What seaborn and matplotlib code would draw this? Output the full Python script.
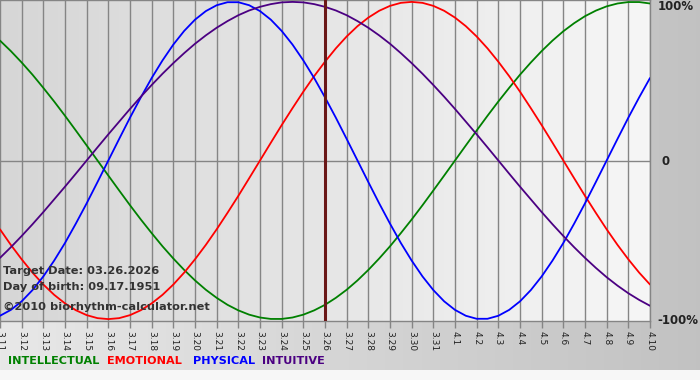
import numpy as np
import pandas as pd
import matplotlib
matplotlib.use("Agg")
import matplotlib.pyplot as plt
import matplotlib.transforms as mtransforms
import seaborn as sns

dates = ["3.11", "3.12", "3.13", "3.14", "3.15", "3.16", "3.17", "3.18", "3.19", "3.20",
         "3.21", "3.22", "3.23", "3.24", "3.25", "3.26", "3.27", "3.28", "3.29", "3.30",
         "3.31", "4.1", "4.2", "4.3", "4.4", "4.5", "4.6", "4.7", "4.8", "4.9", "4.10"]
day_offsets = np.arange(0, 30.5, 0.5)

intellectual = [0.756, 0.690, 0.618, 0.541, 0.458, 0.372, 0.282, 0.189, 0.095, 0.000,
                -0.095, -0.189, -0.282, -0.372, -0.458, -0.541, -0.618, -0.690, -0.756, -0.815,
                -0.866, -0.910, -0.945, -0.972, -0.990, -0.999, -0.999, -0.990, -0.972, -0.945,
                -0.910, -0.866, -0.815, -0.756, -0.690, -0.618, -0.541, -0.458, -0.372, -0.282,
                -0.189, -0.095, 0.000, 0.095, 0.189, 0.282, 0.372, 0.458, 0.541, 0.618,
                0.690, 0.756, 0.815, 0.866, 0.910, 0.945, 0.972, 0.990, 0.999, 0.999, 0.990]

emotional = [-0.434, -0.532, -0.623, -0.707, -0.782, -0.847, -0.901, -0.944, -0.975, -0.994,
             -1.000, -0.994, -0.975, -0.944, -0.901, -0.847, -0.782, -0.707, -0.623, -0.532,
             -0.434, -0.330, -0.223, -0.112, 0.000, 0.112, 0.223, 0.330, 0.434, 0.532,
             0.623, 0.707, 0.782, 0.847, 0.901, 0.944, 0.975, 0.994, 1.000, 0.994,
             0.975, 0.944, 0.901, 0.847, 0.782, 0.707, 0.623, 0.532, 0.434, 0.330,
             0.223, 0.112, 0.000, -0.112, -0.223, -0.330, -0.434, -0.532, -0.623, -0.707, -0.782]

physical = [-0.979, -0.942, -0.888, -0.817, -0.731, -0.631, -0.520, -0.398, -0.270, -0.136,
            0.000, 0.136, 0.270, 0.398, 0.520, 0.631, 0.731, 0.817, 0.888, 0.942,
            0.979, 0.998, 0.998, 0.979, 0.942, 0.888, 0.817, 0.731, 0.631, 0.520,
            0.398, 0.270, 0.136, 0.000, -0.136, -0.270, -0.398, -0.520, -0.631, -0.731,
            -0.817, -0.888, -0.942, -0.979, -0.998, -0.998, -0.979, -0.942, -0.888, -0.817,
            -0.731, -0.631, -0.520, -0.398, -0.270, -0.136, 0.000, 0.136, 0.270, 0.398, 0.520]

intuitive = [-0.614, -0.547, -0.476, -0.402, -0.325, -0.245, -0.165, -0.083, 0.000, 0.083,
             0.165, 0.245, 0.325, 0.402, 0.476, 0.547, 0.614, 0.677, 0.736, 0.789,
             0.837, 0.879, 0.916, 0.946, 0.969, 0.986, 0.997, 1.000, 0.997, 0.986,
             0.969, 0.946, 0.916, 0.879, 0.837, 0.789, 0.736, 0.677, 0.614, 0.547,
             0.476, 0.402, 0.325, 0.245, 0.165, 0.083, 0.000, -0.083, -0.165, -0.245,
             -0.325, -0.402, -0.476, -0.547, -0.614, -0.677, -0.736, -0.789, -0.837, -0.879, -0.916]

series_names = ["INTELLECTUAL", "EMOTIONAL", "PHYSICAL", "INTUITIVE"]
target_label = "3.26"
y_ticks = [1, 0, -1]
y_tick_labels = ["100%", "0", "-100%"]
info_lines = ["Target Date: 03.26.2026", "Day of birth: 09.17.1951", "\u00a92010 biorhythm-calculator.net"]

colors = {"INTELLECTUAL": "#008000", "EMOTIONAL": "#ff0000",
          "PHYSICAL": "#0000ff", "INTUITIVE": "#4b0082"}

df = pd.concat([
    pd.DataFrame({"day": day_offsets, "value": vals, "series": name})
    for name, vals in zip(series_names, [intellectual, emotional, physical, intuitive])
], ignore_index=True)

sns.set_theme(style="white")
plt.rcParams["font.family"] = ["DejaVu Sans"]

W, H = 700, 380
fig = plt.figure(figsize=(W / 100, H / 100), dpi=100)

# figure background: horizontal grey gradient with light bottom strip
bg = fig.add_axes([0, 0, 1, 1], zorder=-10)
img = np.ones((H, W, 3))
g = np.linspace(0.91, 0.76, W)
img[:370, :, :] = g[None, :, None]
img[370:, :, :] = 0.97
bg.imshow(img, extent=[0, W, H, 0], aspect="auto", interpolation="bilinear")
bg.set_xlim(0, W)
bg.set_ylim(H, 0)
bg.set_axis_off()

top_px, bottom_px, right_px = 0, 321, 650
ax = fig.add_axes([0, 1 - bottom_px / H, right_px / W, (bottom_px - top_px) / H])
ax.set_xlim(0, len(dates) - 1)
ax.set_ylim(-1.012, 1.012)

# plot-area gradient
pg = np.linspace(0.84, 0.965, 200)
ax.imshow(np.repeat(pg[None, :, None], 3, axis=2), extent=[0, len(dates) - 1, -1.012, 1.012],
          aspect="auto", zorder=0, interpolation="bilinear")

ax.set_xticks(np.arange(len(dates)))
ax.set_xticklabels(dates)
ax.grid(axis="x", color="#858585", linewidth=1.0, zorder=1)
ax.axhline(0, color="#858585", linewidth=1.0, zorder=1)

sns.lineplot(data=df, x="day", y="value", hue="series", palette=colors,
             hue_order=series_names, legend=False, linewidth=1.3, ax=ax, zorder=3)

ax.axvline(dates.index(target_label), color="#6a1818", linewidth=2.2, zorder=4)

ax.set_xlabel("")
ax.set_ylabel("")
ax.tick_params(axis="x", length=5, width=1, color="#858585", direction="out",
               labelsize=6.5, labelrotation=-90, pad=2, labelcolor="#222222", bottom=True)
ax.set_yticks([])
for s in ["top", "bottom", "right"]:
    ax.spines[s].set_visible(True)
    ax.spines[s].set_color("#858585")
    ax.spines[s].set_linewidth(1)
ax.spines["left"].set_visible(False)

# right-hand percentage labels
ytrans = mtransforms.blended_transform_factory(ax.transAxes, ax.transData)
for yv, lab, dy, dx in zip(y_ticks, y_tick_labels, [-5, -1, -1], [8, 12, 7]):
    tr = mtransforms.offset_copy(ytrans, fig=fig, x=dx, y=dy, units="dots")
    ax.text(1.0, yv, lab, transform=tr, ha="left", va="center", fontsize=8.5,
            fontweight="bold", color="#222222", clip_on=False)

for txt, ypx in zip(info_lines, [271, 287, 307]):
    ax.text(3 / right_px, (bottom_px - ypx) / bottom_px, txt, transform=ax.transAxes,
            ha="left", va="center", fontsize=8.2, fontweight="bold", color="#333333", zorder=5)

for name, xpx in zip(series_names, [8, 107, 193, 262]):
    fig.text(xpx / W, 1 - 361 / H, name, ha="left", va="center", fontsize=8.1,
             fontweight="bold", color=colors[name])

fig.savefig("out.png", dpi=100)
